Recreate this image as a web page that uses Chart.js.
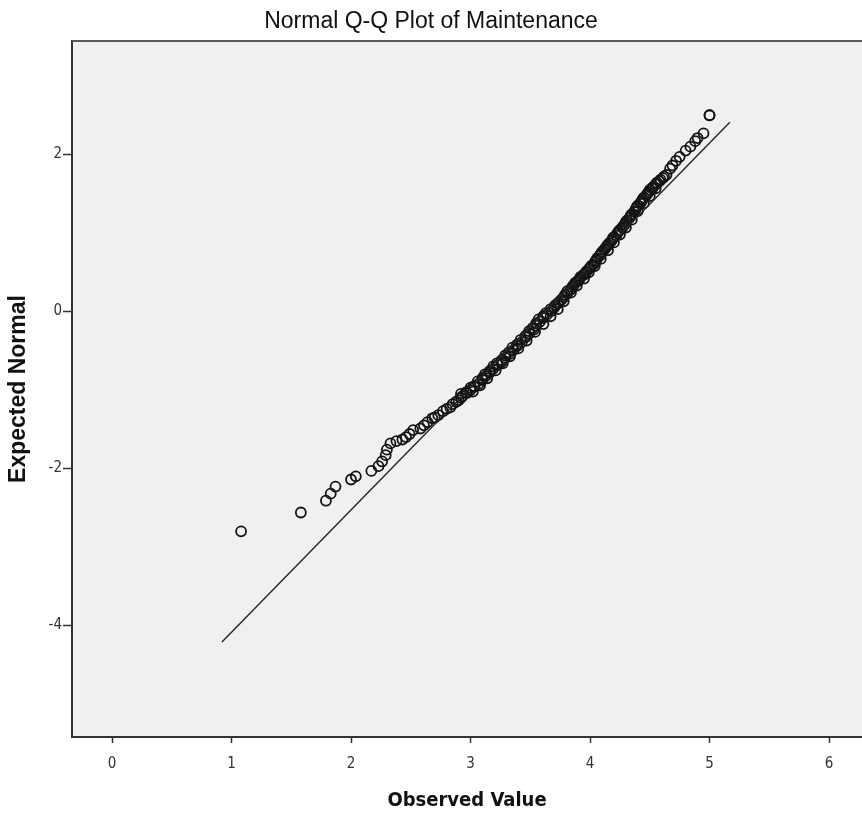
<!DOCTYPE html>
<html>
<head>
<meta charset="utf-8">
<script src="https://cdn.jsdelivr.net/npm/chart.js@4/dist/chart.umd.min.js"></script>
<style>
  html, body { margin: 0; padding: 0; background: #ffffff; }
  #wrap { width: 862px; height: 817px; }
  canvas { display: block; }
</style>
</head>
<body>
<div id="wrap"><canvas id="c" width="862" height="817"></canvas></div>
<script>
const observedValues = [
  1.08,1.58,1.79,1.83,1.87,2.00,2.04,2.17,2.23,2.26,
  2.29,2.30,2.33,2.38,2.43,2.46,2.49,2.52,2.58,2.61,
  2.64,2.68,2.70,2.73,2.77,2.80,2.83,2.85,2.88,2.92,
  2.93,2.97,3.00,3.03,3.07,3.10,3.13,3.16,3.19,3.23,
  3.26,3.29,3.33,3.36,3.39,3.43,3.46,3.49,3.53,3.55,
  3.58,3.61,3.64,3.68,3.70,3.73,3.76,3.79,3.81,3.85,
  3.87,3.90,3.92,3.95,3.97,4.00,4.03,4.05,4.08,4.10,
  4.13,4.15,4.18,4.20,4.23,4.25,4.28,4.30,4.33,4.35,
  4.38,4.40,4.43,4.45,4.48,4.50,4.53,4.56,4.59,4.62,
  4.64,4.67,4.69,4.72,4.75,4.80,4.84,4.88,4.90,4.95,5.00,5.00
];
const expectedNormal = [
  -2.80,-2.56,-2.41,-2.32,-2.23,-2.14,-2.10,-2.03,-1.97,-1.91,
  -1.83,-1.76,-1.68,-1.65,-1.63,-1.60,-1.56,-1.51,-1.49,-1.45,
  -1.41,-1.36,-1.35,-1.32,-1.27,-1.24,-1.22,-1.18,-1.15,-1.10,
  -1.08,-1.04,-1.00,-0.96,-0.92,-0.87,-0.82,-0.78,-0.73,-0.68,
  -0.64,-0.59,-0.54,-0.49,-0.44,-0.39,-0.33,-0.28,-0.23,-0.18,
  -0.13,-0.08,-0.04,0.01,0.05,0.10,0.15,0.21,0.26,0.31,
  0.35,0.39,0.44,0.47,0.51,0.56,0.60,0.65,0.71,0.76,
  0.81,0.85,0.90,0.95,1.00,1.04,1.09,1.14,1.19,1.24,
  1.30,1.35,1.40,1.45,1.50,1.55,1.59,1.64,1.68,1.72,
  1.74,1.82,1.86,1.92,1.97,2.05,2.10,2.17,2.21,2.27,2.50,2.50
];
// Further overlapping circles read from the dense middle of the chain (upper-left edge)
const observedValuesDense = [
  2.90,2.92,2.96,3.00,3.03,3.06,3.10,3.12,3.16,3.19,
  3.22,3.26,3.29,3.32,3.35,3.39,3.42,3.46,3.49,3.52,
  3.55,3.57,3.61,3.63,3.67,3.71,3.74,3.78,3.81,3.84,
  3.86,3.88,3.91,3.94,3.96,3.99,4.01,4.04,4.06,4.09,
  4.12,4.14,4.16,4.19,4.22,4.24,4.27,4.29,4.31,4.34,
  4.37,4.39,4.42,4.44,4.47,4.49,4.52,4.55,4.58,4.61
];
const expectedNormalDense = [
  -1.13,-1.05,-1.03,-0.97,-0.95,-0.89,-0.85,-0.80,-0.76,-0.70,
  -0.66,-0.62,-0.56,-0.52,-0.46,-0.42,-0.36,-0.31,-0.25,-0.21,
  -0.15,-0.10,-0.06,-0.02,0.03,0.08,0.12,0.18,0.23,0.28,
  0.33,0.37,0.41,0.46,0.49,0.54,0.58,0.63,0.68,0.73,
  0.79,0.83,0.87,0.93,0.97,1.02,1.07,1.11,1.16,1.22,
  1.27,1.33,1.38,1.43,1.48,1.52,1.57,1.62,1.66,1.70
];
// Overlapping circles along the lower-right edge of the dense chain
const observedValuesEdge = [
  3.02,3.08,3.14,3.21,3.27,3.33,3.40,3.47,3.54,3.61,
  3.67,3.73,3.78,3.84,3.89,3.95,3.99,4.04,4.09,4.15,
  4.20,4.25,4.30,4.35,4.40,4.45,4.50,4.55
];
const expectedNormalEdge = [
  -1.02,-0.94,-0.85,-0.75,-0.66,-0.57,-0.47,-0.37,-0.26,-0.16,
  -0.06,0.03,0.13,0.24,0.33,0.42,0.50,0.58,0.67,0.78,
  0.88,0.98,1.07,1.17,1.28,1.38,1.47,1.57
];
// Reference line endpoints
const lineX = [0.92, 5.17];
const lineY = [-4.21, 2.41];
// Tick labels
const xTickValues = [0, 1, 2, 3, 4, 5, 6];
const yTickValues = [-4, -2, 0, 2];

const chartTitle = 'Normal Q-Q Plot of Maintenance';
const xTitle = 'Observed Value';
const yTitle = 'Expected Normal';

const toPoints = (xs, ys) => xs.map((x, i) => ({ x: x, y: ys[i] }));
const pointsData = toPoints(observedValues, expectedNormal)
  .concat(toPoints(observedValuesDense, expectedNormalDense))
  .concat(toPoints(observedValuesEdge, expectedNormalEdge));
const lineData = toPoints(lineX, lineY);

const bgPlugin = {
  id: 'plotBg',
  beforeDraw(chart) {
    const { ctx, chartArea: a } = chart;
    ctx.save();
    ctx.fillStyle = '#ffffff';
    ctx.fillRect(0, 0, chart.width, chart.height);
    ctx.fillStyle = '#f0f0f0';
    ctx.fillRect(a.left, a.top, a.right - a.left, a.bottom - a.top);
    ctx.restore();
  },
  afterDraw(chart) {
    const { ctx, chartArea: a } = chart;
    ctx.save();
    ctx.strokeStyle = '#5a5a5a';
    ctx.lineWidth = 2;
    ctx.beginPath();
    ctx.moveTo(a.left, a.top);
    ctx.lineTo(a.right, a.top);
    ctx.stroke();
    ctx.restore();
  }
};

const tickFont = { family: '"DejaVu Sans Condensed", "DejaVu Sans", sans-serif', size: 15 };

new Chart(document.getElementById('c'), {
  type: 'scatter',
  data: {
    datasets: [
      {
        type: 'line',
        data: lineData,
        borderColor: '#262626',
        borderWidth: 1.4,
        pointRadius: 0,
        fill: false,
        tension: 0
      },
      {
        data: pointsData,
        pointStyle: 'circle',
        pointRadius: 5,
        borderWidth: 1.8,
        borderColor: '#141414',
        backgroundColor: 'rgba(0,0,0,0)'
      }
    ]
  },
  options: {
    responsive: false,
    animation: false,
    devicePixelRatio: 1,
    layout: { padding: 0, autoPadding: false },
    plugins: {
      legend: { display: false },
      tooltip: { enabled: false },
      title: {
        display: true,
        text: chartTitle,
        color: '#111111',
        font: { family: '"Liberation Sans", Arial, sans-serif', size: 23, weight: 'normal', lineHeight: 1.2 },
        padding: { top: 8, bottom: 5.4 }
      }
    },
    scales: {
      x: {
        type: 'linear',
        min: -0.335,
        max: 6.276,
        afterBuildTicks(scale) { scale.ticks = xTickValues.map(v => ({ value: v })); },
        afterFit(scale) { scale.height = 80; },
        grid: { drawOnChartArea: false, drawTicks: true, tickLength: 6, tickColor: '#333333', tickWidth: 1.5 },
        border: { display: true, color: '#333333', width: 2 },
        ticks: { color: '#333333', font: tickFont, padding: 12, maxRotation: 0 },
        title: {
          display: true,
          text: xTitle,
          color: '#111111',
          font: { family: '"DejaVu Sans Condensed", "DejaVu Sans", sans-serif', size: 20, weight: 'bold', lineHeight: 1.2 },
          padding: { top: 0, bottom: 4 }
        }
      },
      y: {
        type: 'linear',
        min: -5.42,
        max: 3.446,
        afterBuildTicks(scale) { scale.ticks = yTickValues.map(v => ({ value: v })); },
        afterFit(scale) { scale.width = 72; },
        grid: { drawOnChartArea: false, drawTicks: true, tickLength: 9, tickColor: '#333333', tickWidth: 1.5 },
        border: { display: true, color: '#333333', width: 2 },
        ticks: { color: '#333333', font: tickFont, padding: 1 },
        title: {
          display: true,
          text: yTitle,
          color: '#111111',
          font: { family: '"Liberation Sans", Arial, sans-serif', size: 23, weight: 'bold', lineHeight: 1.2 },
          padding: { top: 5, bottom: 0 }
        }
      }
    }
  },
  plugins: [bgPlugin]
});
</script>
</body>
</html>
